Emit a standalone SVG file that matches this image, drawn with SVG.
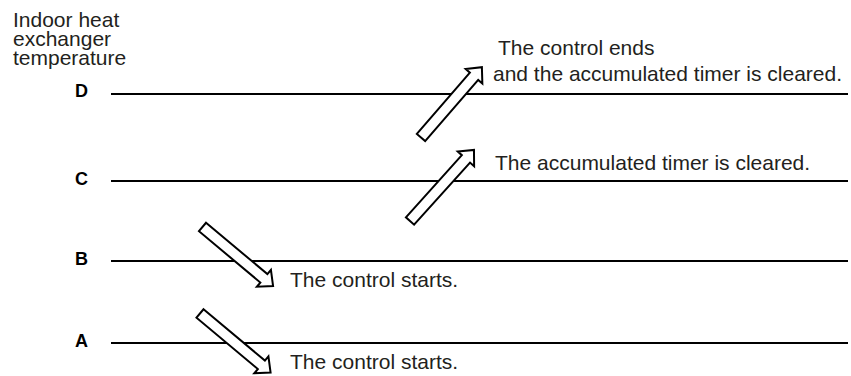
<svg xmlns="http://www.w3.org/2000/svg" width="851" height="376" viewBox="0 0 851 376">
<style>
.t{font-family:"Liberation Sans",Arial,sans-serif;font-size:21px;fill:#231f20}
.lbl{font-family:"Liberation Sans",Arial,sans-serif;font-size:18px;font-weight:bold;fill:#000}
.ln{stroke:#000;stroke-width:2;fill:none}
.arr{fill:#fff;stroke:#000;stroke-width:2;stroke-linejoin:miter}
</style>
<rect width="851" height="376" fill="#fff"/>
<g id="title">
<text class="t" x="13" y="27">Indoor heat</text>
<text class="t" x="13" y="46">exchanger</text>
<text class="t" x="13" y="65">temperature</text>
</g>
<g id="levelD">
<line class="ln" x1="111" y1="94" x2="848" y2="94"/>
<text class="lbl" x="75" y="97">D</text>
</g>
<g id="levelC">
<line class="ln" x1="111" y1="181" x2="848" y2="181"/>
<text class="lbl" x="75" y="185">C</text>
</g>
<g id="levelB">
<line class="ln" x1="111" y1="261" x2="848" y2="261"/>
<text class="lbl" x="75" y="265">B</text>
</g>
<g id="levelA">
<line class="ln" x1="111" y1="343" x2="848" y2="343"/>
<text class="lbl" x="75" y="347">A</text>
</g>
<g id="connectors">
<path class="arr" transform="translate(421,137.5) rotate(-49.1)" d="M0,-5.5 L81,-5.5 L81,-11 L93,0 L81,11 L81,5.5 L0,5.5 Z"/>
<path class="arr" transform="translate(410,221) rotate(-48)" d="M0,-5.5 L83.6,-5.5 L83.6,-11 L95.6,0 L83.6,11 L83.6,5.5 L0,5.5 Z"/>
<path class="arr" transform="translate(202.5,227) rotate(39.9)" d="M0,-5.5 L80,-5.5 L80,-11 L92,0 L80,11 L80,5.5 L0,5.5 Z"/>
<path class="arr" transform="translate(200,313.5) rotate(39.9)" d="M0,-5.5 L80,-5.5 L80,-11 L92,0 L80,11 L80,5.5 L0,5.5 Z"/>
</g>
<g id="noteD">
<text class="t" x="498" y="55">The control ends</text>
<text class="t" x="493" y="81">and the accumulated timer is cleared.</text>
</g>
<g id="noteC">
<text class="t" x="495" y="170">The accumulated timer is cleared.</text>
</g>
<g id="noteB">
<text class="t" x="290" y="287">The control starts.</text>
</g>
<g id="noteA">
<text class="t" x="290" y="369">The control starts.</text>
</g>
</svg>
